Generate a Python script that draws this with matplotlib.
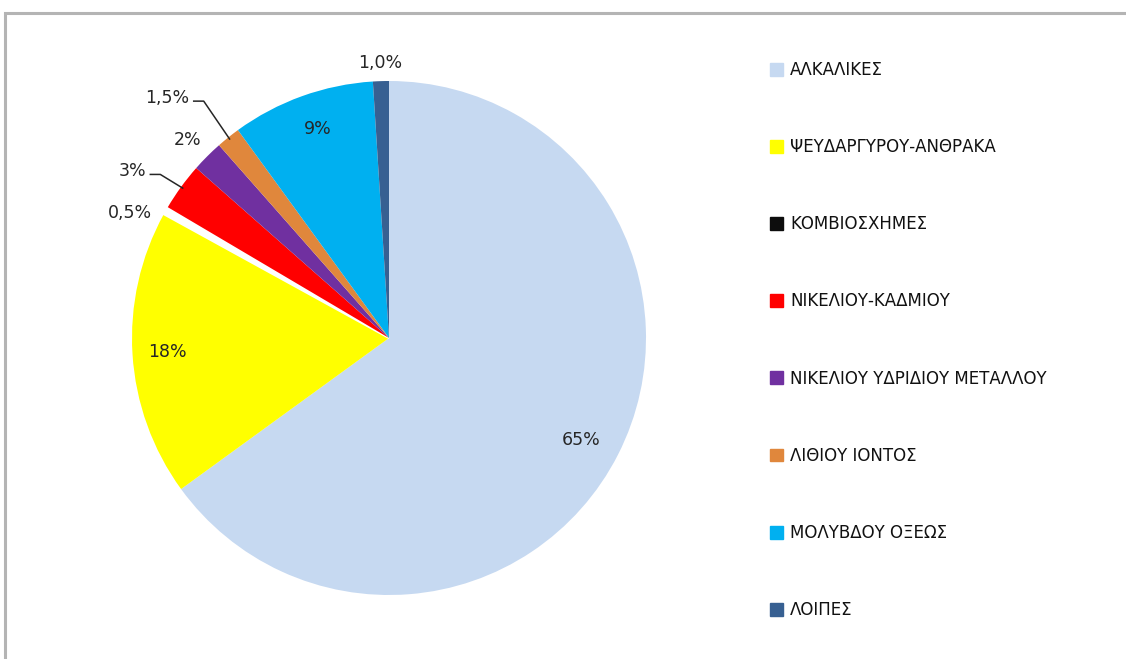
import matplotlib
matplotlib.use("Agg")
import matplotlib.pyplot as plt
import numpy as np

categories = ["ΑΛΚΑΛΙΚΕΣ", "ΨΕΥΔΑΡΓΥΡΟΥ-ΑΝΘΡΑΚΑ", "ΚΟΜΒΙΟΣΧΗΜΕΣ", "ΝΙΚΕΛΙΟΥ-ΚΑΔΜΙΟΥ",
              "ΝΙΚΕΛΙΟΥ ΥΔΡΙΔΙΟΥ ΜΕΤΑΛΛΟΥ", "ΛΙΘΙΟΥ ΙΟΝΤΟΣ", "ΜΟΛΥΒΔΟΥ ΟΞΕΩΣ", "ΛΟΙΠΕΣ"]
values = [65, 18, 0.5, 3, 2, 1.5, 9, 1.0]
labels = ["65%", "18%", "0,5%", "3%", "2%", "1,5%", "9%", "1,0%"]
colors = ["#c6d9f1", "#ffff00", "#0d0d0d", "#ff0000", "#7030a0", "#e0873c", "#00b0f0", "#376092"]

W, H = 1126, 659
fig = plt.figure(figsize=(W / 100, H / 100), dpi=100)
ax = fig.add_axes([0, 0, 1, 1])

cx, cy, R = 389, H - 338, 257
wedges, _ = ax.pie(values, colors=colors, startangle=90, counterclock=False,
                   center=(cx, cy), radius=R, frame=True,
                   wedgeprops=dict(linewidth=0))
# the tiny slice renders as a white gap in the reference
wedges[2].set_facecolor("white")
wedges[2].set_edgecolor("white")
wedges[2].set_linewidth(1.5)
ax.set_xlim(0, W)
ax.set_ylim(0, H)
ax.set_aspect("equal")
ax.axis("off")

# chart frame
ax.plot([5, 5, W + 5], [-5, H - 13, H - 13], color="#b4b4b4", lw=2.2, solid_joinstyle="miter")

# label placement: (radius factor, angle offset deg, leader line)
place = [(0.845, -1, False), (0.865, 0, False), (1.12, 4, False), (1.19, 3, True),
         (1.10, 0.5, False), (1.27, 4, True), (0.86, -1, False), (1.07, 0, False)]
fig.canvas.draw()
renderer = fig.canvas.get_renderer()
for w, lab, (rf, da, leader) in zip(wedges, labels, place):
    mid = np.deg2rad((w.theta1 + w.theta2) / 2 + da)
    midr = np.deg2rad((w.theta1 + w.theta2) / 2)
    tx, ty = cx + rf * R * np.cos(mid), cy + rf * R * np.sin(mid)
    t = ax.text(tx, ty, lab, ha="center", va="center", fontsize=12.5, color="#262626",
                family="DejaVu Sans")
    if leader:
        bb = t.get_window_extent(renderer)
        ex, ey = cx + (R - 2) * np.cos(midr), cy + (R - 2) * np.sin(midr)
        x0 = bb.x1 + 4
        ax.plot([x0, x0 + 10, ex], [ty - 3, ty - 3, ey], color="#262626", lw=1.1)

handles = [plt.Rectangle((0, 0), 1, 1, color=c) for c in colors]
leg = ax.legend(handles, categories, loc="upper left", bbox_to_anchor=(770 / W, 1 - 61 / H),
                frameon=False, fontsize=12, handlelength=0.8, handleheight=0.8,
                handletextpad=0.4, labelspacing=3.55, borderaxespad=0, borderpad=0)
for t in leg.get_texts():
    t.set_color("#111111")

fig.savefig("out.png", dpi=100)
